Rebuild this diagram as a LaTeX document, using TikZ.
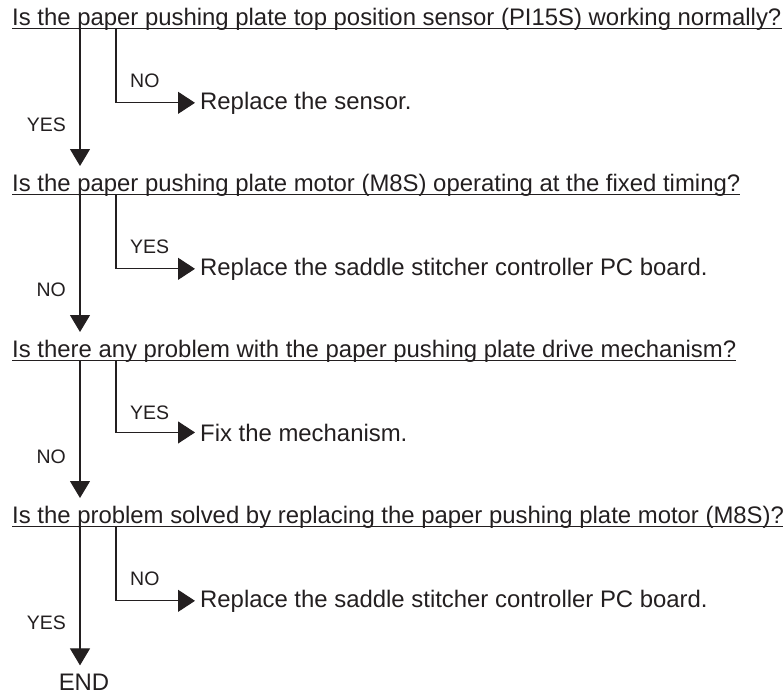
\documentclass[tikz,border=0pt]{standalone}
\usepackage{fontspec}
\setmainfont{Liberation Sans}
\usetikzlibrary{arrows.meta}
\definecolor{ink}{HTML}{231F20}
\begin{document}
\begin{tikzpicture}[x=1pt,y=-1pt,
  qtext/.style={inner sep=0pt,anchor=base west,font=\fontsize{23.9}{28}\selectfont,text=ink},
  atext/.style={inner sep=0pt,anchor=base west,font=\fontsize{23.9}{28}\selectfont,text=ink},
  lbl/.style={inner sep=0pt,font=\fontsize{19.5}{23}\selectfont,text=ink},
  uline/.style={line width=1pt,draw=ink},
  flow/.style={line width=1.1pt,draw=ink,-{Triangle[length=17pt,width=20pt]}},
  branch/.style={line width=1.1pt,draw=ink,-{Triangle[length=17pt,width=22pt]},shorten >=5pt}]
\useasboundingbox (0,0) rectangle (783,694);

% Section 1
\node[qtext] (q1) at (12,25) {Is the paper pushing plate top position sensor (PI15S) working normally?};
\draw[uline] ([yshift=-3pt]q1.base west) -- ([yshift=-3pt]q1.base east);
\coordinate (m1) at (80,28); \coordinate (m1e) at (80,166); \coordinate (b1) at (116,28);
\node[atext] (a1) at (200,109) {Replace the sensor.};
\draw[flow] (m1) -- (m1e);
\draw[branch] (b1) |- (a1.west);
\node[lbl,anchor=west] (l1b) at (130,81) {NO};
\node[lbl,anchor=east] (l1m) at (66,125) {YES};

% Section 2
\node[qtext] (q2) at (12,191) {Is the paper pushing plate motor (M8S) operating at the fixed timing?};
\draw[uline] ([yshift=-3pt]q2.base west) -- ([yshift=-3pt]q2.base east);
\coordinate (m2) at (80,194); \coordinate (m2e) at (80,332); \coordinate (b2) at (116,194);
\node[atext] (a2) at (200,275) {Replace the saddle stitcher controller PC board.};
\draw[flow] (m2) -- (m2e);
\draw[branch] (b2) |- (a2.west);
\node[lbl,anchor=west] (l2b) at (130,247) {YES};
\node[lbl,anchor=east] (l2m) at (66,290) {NO};

% Section 3
\node[qtext] (q3) at (12,357) {Is there any problem with the paper pushing plate drive mechanism?};
\draw[uline] ([yshift=-3pt]q3.base west) -- ([yshift=-3pt]q3.base east);
\coordinate (m3) at (80,360); \coordinate (m3e) at (80,498); \coordinate (b3) at (116,360);
\node[atext] (a3) at (200,441) {Fix the mechanism.};
\draw[flow] (m3) -- (m3e);
\draw[branch] (b3) |- (a3.west);
\node[lbl,anchor=west] (l3b) at (130,413) {YES};
\node[lbl,anchor=east] (l3m) at (66,457) {NO};

% Section 4
\node[qtext] (q4) at (12,523) {Is the problem solved by replacing the paper pushing plate motor (M8S)?};
\draw[uline] ([yshift=-3pt]q4.base west) -- ([yshift=-3pt]q4.base east);
\coordinate (m4) at (80,526); \coordinate (b4) at (116,526);
\node[atext] (a4) at (200,607) {Replace the saddle stitcher controller PC board.};
\node[inner sep=0pt,anchor=base,font=\fontsize{23.9}{28}\selectfont,text=ink] (e) at (84,690) {END};
\draw[flow] (m4) -- ([yshift=8pt]e.north -| m4);
\draw[branch] (b4) |- (a4.west);
\node[lbl,anchor=west] (l4b) at (130,579) {NO};
\node[lbl,anchor=east] (l4m) at (66,623) {YES};
\end{tikzpicture}
\end{document}
